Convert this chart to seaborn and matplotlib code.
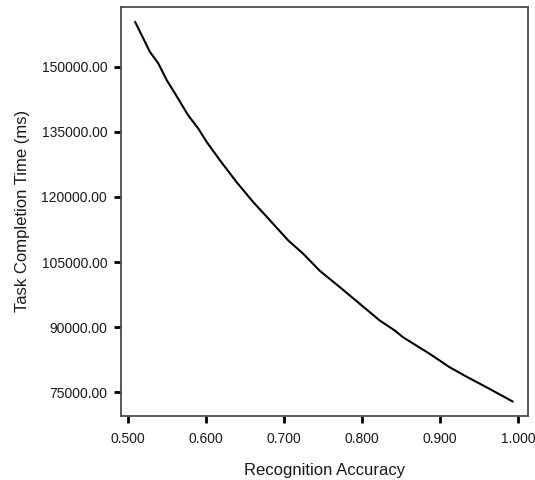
import numpy as np
import matplotlib.pyplot as plt
import seaborn as sns
import pandas as pd
from matplotlib.ticker import FormatStrFormatter

# values
accuracy = [0.509, 0.528, 0.5388, 0.5496, 0.5602, 0.577, 0.590, 0.6008,
            0.6178, 0.639, 0.6604, 0.682, 0.7053, 0.7245, 0.7458, 0.7715,
            0.797, 0.8227, 0.8419, 0.8525, 0.8867, 0.9123, 0.9337, 0.9635,
            0.9933]
task_time = [160385, 153460, 150785, 146930, 143860, 138850, 135785, 132690,
             128470, 123460, 118846, 114620, 110000, 106940, 103000, 99230,
             95400, 91540, 89240, 87690, 83860, 80770, 78620, 75780,
             72850]
x_ticks = [0.5, 0.6, 0.7, 0.8, 0.9, 1.0]
y_ticks = [75000, 90000, 105000, 120000, 135000, 150000]

df = pd.DataFrame({'Recognition Accuracy': accuracy,
                   'Task Completion Time (ms)': task_time})

sns.set_style('white')
plt.rcParams['font.family'] = ['Liberation Sans', 'DejaVu Sans']

fig = plt.figure(figsize=(5.35, 4.8), dpi=100)
ax = fig.add_axes([0.2262, 0.134, 0.7607, 0.852])

sns.lineplot(x='Recognition Accuracy', y='Task Completion Time (ms)', data=df,
             ax=ax, color='black', linewidth=1.5)

ax.set_xlim(0.491, 1.0128)
ax.set_ylim(69600, 163850)
ax.set_xticks(x_ticks)
ax.set_yticks(y_ticks)
ax.xaxis.set_major_formatter(FormatStrFormatter('%.3f'))
ax.yaxis.set_major_formatter(FormatStrFormatter('%.2f'))

for s in ax.spines.values():
    s.set_color('#4d4d4d')
    s.set_linewidth(1.3)
    s.set_visible(True)

ax.tick_params(axis='both', direction='out', length=5, width=2, color='black',
               labelsize=10, labelcolor='#1a1a1a', bottom=True, left=True)
ax.tick_params(axis='y', pad=5)
ax.tick_params(axis='x', pad=7)
ax.set_xlabel('Recognition Accuracy', fontsize=12, labelpad=12, color='#1a1a1a')
ax.set_ylabel('Task Completion Time (ms)', fontsize=12, labelpad=8, color='#1a1a1a')

plt.savefig('out.png', dpi=100)
